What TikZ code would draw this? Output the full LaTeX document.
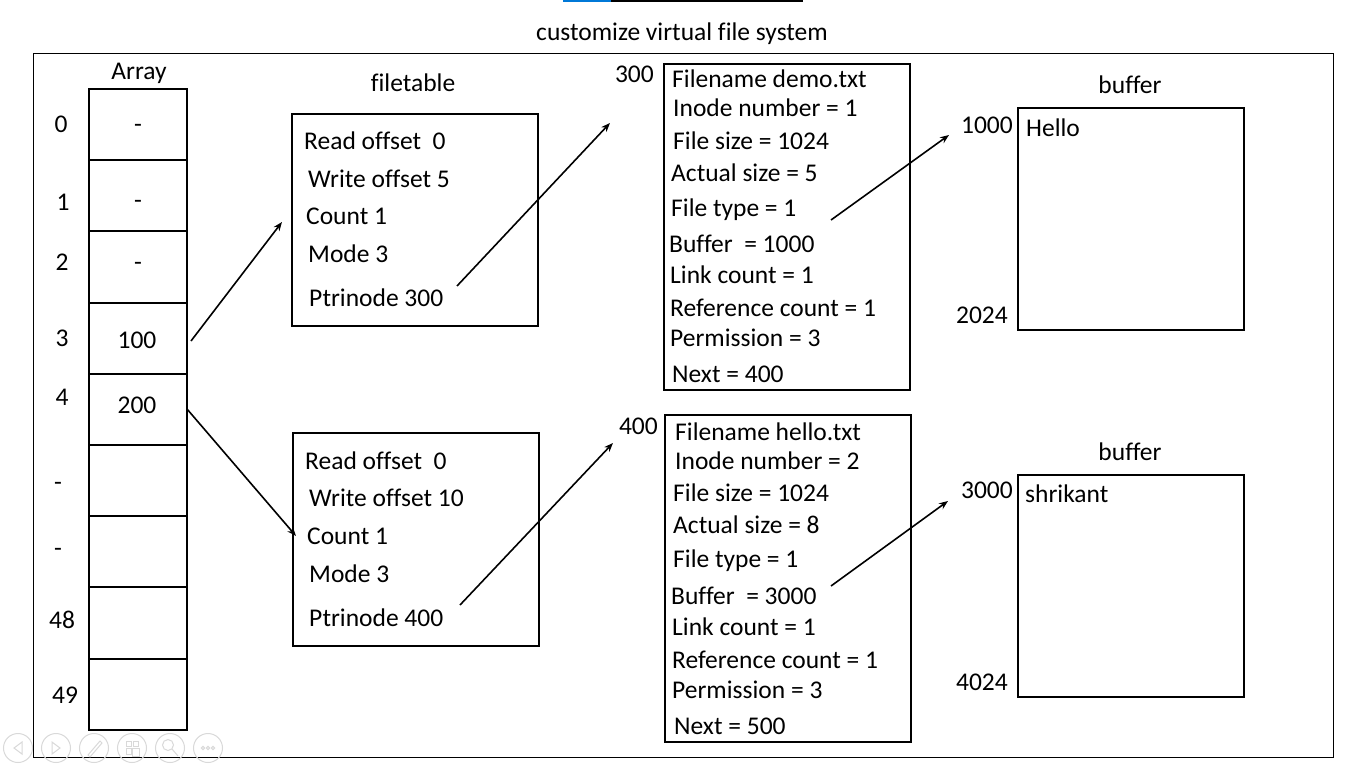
\documentclass[tikz,border=0pt]{standalone}
\usepackage{fontspec}
\setmainfont{Carlito}[Ligatures=NoCommon]
\usetikzlibrary{arrows.meta}
\begin{document}
\begin{tikzpicture}[x=1pt,y=-1pt,
  every node/.style={font=\fontsize{25.5}{30}\selectfont},
  txt/.style={anchor=base west, inner sep=0pt},
  rtxt/.style={anchor=base east, inner sep=0pt},
  ctxt/.style={anchor=base, inner sep=0pt},
  box/.style={draw, line width=2pt, anchor=north west, inner sep=0pt},
  arr/.style={line width=1.6pt, -{Stealth[length=9pt,width=7pt]}},
  ui/.style={draw=gray!30, line width=1pt}]
\useasboundingbox (0,0) rectangle (1366,768);
\fill[white] (0,0) rectangle (1366,768);
% top lines
\draw[line width=1.5pt, color={rgb,255:red,0;green,120;blue,215}] (563,1) -- (611,1);
\draw[line width=1.5pt] (611,1) -- (803,1);
% title and frame
\node[ctxt] (title) at (682,41) {customize virtual file system};
\node[box, line width=1.2pt, minimum width=1300pt, minimum height=704pt] (frame) at (33,53) {};
% array
\node[ctxt] (arrlbl) at (139,80) {Array};
\foreach \i in {0,...,8}
  \node[box, minimum width=98pt, minimum height=71.2pt] (c\i) at (88,{88+71.2*\i}) {};
\node[ctxt] (i0) at (61,132) {0};
\node[ctxt] (i1) at (63,210) {1};
\node[ctxt] (i2) at (62,270) {2};
\node[ctxt] (i3) at (62,346) {3};
\node[ctxt] (i4) at (62,405) {4};
\node[ctxt] (i5) at (58,490) {-};
\node[ctxt] (i6) at (58,556) {-};
\node[ctxt] (i7) at (62,628) {48};
\node[ctxt] (i8) at (65,703) {49};
\node[ctxt] (v0) at (138,132) {-};
\node[ctxt] (v1) at (138,208) {-};
\node[ctxt] (v2) at (138,270) {-};
\node[ctxt] (v3) at (137,348) {100};
\node[ctxt] (v4) at (137,413) {200};
% filetables
\node[ctxt] (ftlbl) at (413,92) {filetable};
\node[box, minimum width=246pt, minimum height=212pt] (ft1) at (291,113) {};
\node[txt] (ft1a) at (304,149) {Read offset\ \ 0};
\node[txt] (ft1b) at (308,187) {Write offset 5};
\node[txt] (ft1c) at (306,224) {Count 1};
\node[txt] (ft1d) at (308,262) {Mode 3};
\node[txt] (ft1e) at (309,306) {Ptrinode 300};
\node[box, minimum width=246pt, minimum height=213pt] (ft2) at (292,432) {};
\node[txt] (ft2a) at (305,469) {Read offset\ \ 0};
\node[txt] (ft2b) at (309,506) {Write offset 10};
\node[txt] (ft2c) at (307,544) {Count 1};
\node[txt] (ft2d) at (309,582) {Mode 3};
\node[txt] (ft2e) at (309,626) {Ptrinode 400};
% inodes
\node[rtxt] (ad300) at (654,82) {300};
\node[box, minimum width=246pt, minimum height=326pt] (in1) at (663,63) {};
\node[txt] (in1a) at (672,88) {Filename demo.txt};
\node[txt] (in1b) at (673,117) {Inode number = 1};
\node[txt] (in1c) at (673,149) {File size = 1024};
\node[txt] (in1d) at (671,181) {Actual size = 5};
\node[txt] (in1e) at (671,216) {File type = 1};
\node[txt] (in1f) at (669,252) {Buffer\ \ = 1000};
\node[txt] (in1g) at (670,283) {Link count = 1};
\node[txt] (in1h) at (670,316) {Reference count = 1};
\node[txt] (in1i) at (670,346) {Permission = 3};
\node[txt] (in1j) at (672,382) {Next = 400};
\node[rtxt] (ad400) at (658,434) {400};
\node[box, minimum width=246pt, minimum height=327pt] (in2) at (664,414) {};
\node[txt] (in2a) at (675,440) {Filename hello.txt};
\node[txt] (in2b) at (675,469) {Inode number = 2};
\node[txt] (in2c) at (673,501) {File size = 1024};
\node[txt] (in2d) at (673,533) {Actual size = 8};
\node[txt] (in2e) at (673,567) {File type = 1};
\node[txt] (in2f) at (671,604) {Buffer\ \ = 3000};
\node[txt] (in2g) at (672,635) {Link count = 1};
\node[txt] (in2h) at (672,668) {Reference count = 1};
\node[txt] (in2i) at (672,698) {Permission = 3};
\node[txt] (in2j) at (674,734) {Next = 500};
% buffers
\node[ctxt] (b1lbl) at (1130,93) {buffer};
\node[box, minimum width=226pt, minimum height=222pt] (buf1) at (1017,107) {};
\node[rtxt] (ad1000) at (1013,133) {1000};
\node[txt] (hello) at (1026,136) {Hello};
\node[rtxt] (ad2024) at (1008,323) {2024};
\node[ctxt] (b2lbl) at (1130,460) {buffer};
\node[box, minimum width=226pt, minimum height=222pt] (buf2) at (1017,474) {};
\node[rtxt] (ad3000) at (1013,498) {3000};
\node[txt] (shri) at (1025,502) {shrikant};
\node[rtxt] (ad4024) at (1008,690) {4024};
% arrows
\coordinate (a1s) at (191,341); \coordinate (a1e) at (282,222);
\coordinate (a2s) at (187,409); \coordinate (a2e) at (296,536);
\coordinate (a3s) at (457,286); \coordinate (a3e) at (610,123);
\coordinate (a4s) at (460,605); \coordinate (a4e) at (613,443);
\coordinate (a5s) at (831,220); \coordinate (a5e) at (949,135);
\coordinate (a6s) at (831,586); \coordinate (a6e) at (948,501);
\draw[arr] (a1s) -- (a1e);
\draw[arr] (a2s) -- (a2e);
\draw[arr] (a3s) -- (a3e);
\draw[arr] (a4s) -- (a4e);
\draw[arr] (a5s) -- (a5e);
\draw[arr] (a6s) -- (a6e);
% slideshow controls (faint)
\foreach \cx in {18,56,94,132,170,208}
  \draw[ui] (\cx,748) circle (14.5);
\draw[ui] (22,742) -- (14,748) -- (22,754) -- cycle;
\draw[ui] (52,742) -- (60,748) -- (52,754) -- cycle;
\draw[ui] (88,755) -- (100,741) -- (102,743) -- (90,757) -- cycle;
\draw[ui] (126,741) rectangle (131,746) (133,741) rectangle (138,746) (126,748) rectangle (131,754) (132,748) rectangle (139,756);
\draw[ui] (168,745) circle (5.5) (172,749) -- (178,756);
\foreach \dx in {-5,0,5} \draw[ui] ({208+\dx},748) circle (1.6);
\end{tikzpicture}
\end{document}
